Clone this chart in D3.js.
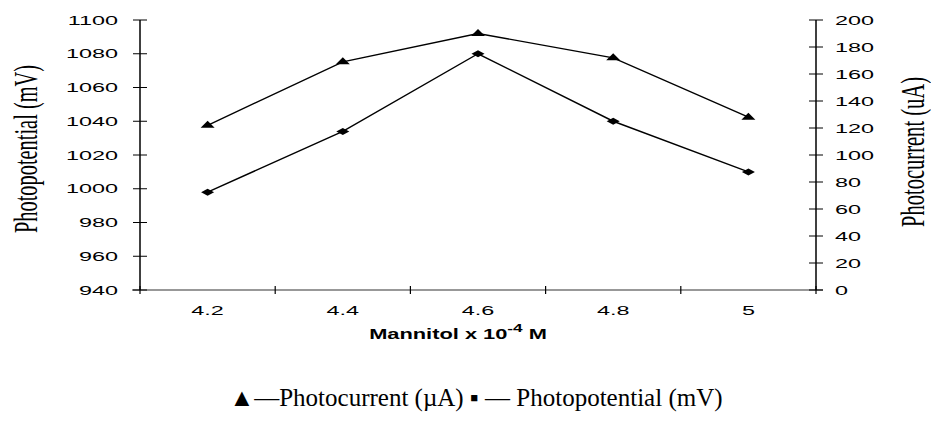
<!DOCTYPE html>
<html><head><meta charset="utf-8">
<script src="https://cdn.jsdelivr.net/npm/d3@7"></script>
<style>html,body{margin:0;padding:0;background:#fff;}svg{display:block;}</style>
</head><body>
<script>
const categories = ["4.2","4.4","4.6","4.8","5"];
const photopotential = [998, 1034, 1080, 1040, 1010];   // mV, left axis
const photocurrent = [122, 169, 190, 172, 128];         // uA, right axis
const leftTicks = [940,960,980,1000,1020,1040,1060,1080,1100];
const rightTicks = [0,20,40,60,80,100,120,140,160,180,200];

const W = 931, H = 425;
const svg = d3.select("body").append("svg").attr("width", W).attr("height", H);

const x = d3.scaleBand().domain(categories).range([140, 816]).padding(0);
const yL = d3.scaleLinear().domain([940, 1100]).range([290, 20]);
const yR = d3.scaleLinear().domain([0, 200]).range([290, 20]);

const SX = 1.8;
function stxt(g, str, tx, ty, opts) {
  const t = g.append("text")
    .attr("transform", `translate(${tx},${ty}) scale(${opts.sx || SX},1)`)
    .attr("font-family", opts.family || "Liberation Sans, Arial, sans-serif")
    .attr("font-size", opts.size || 13)
    .attr("font-weight", opts.weight || "normal")
    .attr("text-anchor", opts.anchor || "middle")
    .attr("fill", "#000")
    .text(str);
  return t;
}

// x axis line
svg.append("line").attr("x1", 132).attr("x2", 823).attr("y1", 290).attr("y2", 290)
  .attr("stroke", "#333").attr("stroke-width", 1.2);

// x ticks at band boundaries
const bounds = categories.map(c => x(c)).concat([x.range()[1]]);
svg.selectAll(".xt").data(bounds).enter().append("line")
  .attr("x1", d => d).attr("x2", d => d).attr("y1", 286).attr("y2", 294)
  .attr("stroke", "#000").attr("stroke-width", 1.2);
categories.forEach(c => stxt(svg, c, x(c) + x.bandwidth() / 2, 315, {}));

// left axis
svg.append("line").attr("x1", 140).attr("x2", 140).attr("y1", 20).attr("y2", 290)
  .attr("stroke", "#000").attr("stroke-width", 1.5);
leftTicks.forEach(v => {
  svg.append("line").attr("x1", 133).attr("x2", 147).attr("y1", yL(v)).attr("y2", yL(v))
    .attr("stroke", "#000").attr("stroke-width", 1);
  stxt(svg, v, 118, yL(v) + 4.7, {anchor: "end"});
});

// right axis
svg.append("line").attr("x1", 816).attr("x2", 816).attr("y1", 20).attr("y2", 290)
  .attr("stroke", "#000").attr("stroke-width", 1.5);
rightTicks.forEach(v => {
  svg.append("line").attr("x1", 809).attr("x2", 823).attr("y1", yR(v)).attr("y2", yR(v))
    .attr("stroke", "#000").attr("stroke-width", 1);
  stxt(svg, v, 835, yR(v) + 4.7, {anchor: "start"});
});

// axis titles (rotated)
function rtitle(str, tx, ty, len) {
  svg.append("text")
    .attr("transform", `translate(${tx},${ty}) rotate(-90) scale(1,1.7)`)
    .attr("font-family", "Liberation Serif, Times New Roman, serif")
    .attr("font-size", 20).attr("text-anchor", "middle")
    .attr("textLength", len).attr("lengthAdjust", "spacingAndGlyphs")
    .text(str);
}
rtitle("Photopotential (mV)", 37, 149, 168);
rtitle("Photocurrent (uA)", 924, 152, 150);

// x title
const xt = svg.append("text")
  .attr("transform", `translate(458,339) scale(1.56,1)`)
  .attr("font-family", "Liberation Sans, Arial, sans-serif")
  .attr("font-size", 14).attr("font-weight", "bold").attr("text-anchor", "middle");
xt.append("tspan").text("Mannitol x 10");
xt.append("tspan").attr("font-size", 11).attr("dy", -7).text("-4");
xt.append("tspan").attr("dy", 7).text(" M");

// lines
const cx = c => x(c) + x.bandwidth() / 2;
const lineL = d3.line().x((d, i) => cx(categories[i])).y(d => yL(d));
const lineR = d3.line().x((d, i) => cx(categories[i])).y(d => yR(d));
svg.append("path").attr("d", lineR(photocurrent)).attr("fill", "none").attr("stroke", "#000").attr("stroke-width", 1.4);
svg.append("path").attr("d", lineL(photopotential)).attr("fill", "none").attr("stroke", "#000").attr("stroke-width", 1.4);

// markers
svg.selectAll(".tri").data(photocurrent).enter().append("path")
  .attr("transform", (d, i) => `translate(${cx(categories[i])},${yR(d)})`)
  .attr("d", "M0,-4.5L7,2.5L-7,2.5Z").attr("fill", "#000");
svg.selectAll(".dia").data(photopotential).enter().append("path")
  .attr("transform", (d, i) => `translate(${cx(categories[i])},${yL(d)})`)
  .attr("d", "M0,-3.5L6.5,0L0,3.5L-6.5,0Z").attr("fill", "#000");

// legend
svg.append("text").attr("x", 476).attr("y", 406)
  .attr("font-family", "Liberation Serif, Times New Roman, serif")
  .attr("font-size", 25).attr("text-anchor", "middle")
  .text("▲—Photocurrent (µA) ▪ — Photopotential (mV)");
</script>
</body></html>
